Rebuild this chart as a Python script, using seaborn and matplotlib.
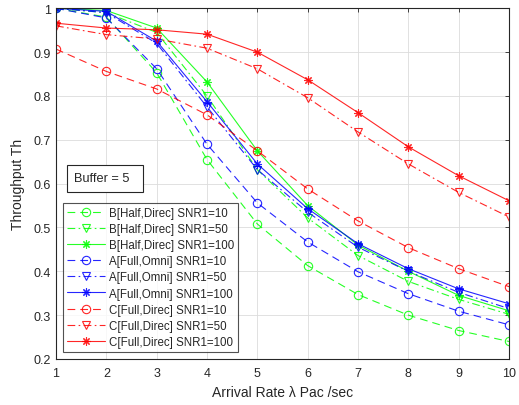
import numpy as np
import pandas as pd
import matplotlib
matplotlib.use("Agg")
import matplotlib.pyplot as plt
from matplotlib.patches import Rectangle
import seaborn as sns

# ---- data ----
arrival_rate = [1, 2, 3, 4, 5, 6, 7, 8, 9, 10]
B10 = [1.0, 0.98, 0.853, 0.655, 0.508, 0.413, 0.347, 0.30, 0.265, 0.24]
B50 = [1.0, 0.99, 0.945, 0.80, 0.632, 0.522, 0.436, 0.377, 0.336, 0.302]
B100 = [1.0, 0.995, 0.955, 0.832, 0.675, 0.55, 0.46, 0.40, 0.345, 0.31]
A10 = [1.0, 0.978, 0.862, 0.69, 0.556, 0.467, 0.399, 0.349, 0.309, 0.278]
A50 = [1.0, 0.99, 0.92, 0.775, 0.632, 0.535, 0.455, 0.40, 0.352, 0.315]
A100 = [1.0, 0.993, 0.925, 0.787, 0.645, 0.543, 0.463, 0.406, 0.36, 0.326]
C10 = [0.907, 0.856, 0.816, 0.757, 0.675, 0.588, 0.515, 0.454, 0.406, 0.365]
C50 = [0.96, 0.94, 0.93, 0.909, 0.862, 0.796, 0.718, 0.645, 0.58, 0.524]
C100 = [0.966, 0.955, 0.951, 0.941, 0.90, 0.837, 0.762, 0.684, 0.618, 0.561]

series_labels = [
    "B[Half,Direc] SNR1=10", "B[Half,Direc] SNR1=50", "B[Half,Direc] SNR1=100",
    "A[Full,Omni] SNR1=10", "A[Full,Omni] SNR1=50", "A[Full,Omni] SNR1=100",
    "C[Full,Direc] SNR1=10", "C[Full,Direc] SNR1=50", "C[Full,Direc] SNR1=100",
]
series_values = [B10, B50, B100, A10, A50, A100, C10, C50, C100]
yticks = [0.2, 0.3, 0.4, 0.5, 0.6, 0.7, 0.8, 0.9, 1.0]
ytick_labels = ["0.2", "0.3", "0.4", "0.5", "0.6", "0.7", "0.8", "0.9", "1"]

df = pd.DataFrame({
    "x": np.tile(arrival_rate, len(series_labels)),
    "y": np.concatenate(series_values),
    "series": np.repeat(series_labels, len(arrival_rate)),
})

# ---- styles ----
GREEN, BLUE, RED = "#00ff00", "#0000ff", "#ff0000"
DASH = (0, (7, 4.5))
DASHDOT = (0, (7, 3, 1.5, 3))
AST = (8, 2, 0)
styles = [
    (GREEN, DASH, "o"), (GREEN, DASHDOT, "v"), (GREEN, "-", AST),
    (BLUE, DASH, "o"), (BLUE, DASHDOT, "v"), (BLUE, "-", AST),
    (RED, DASH, "o"), (RED, DASHDOT, "v"), (RED, "-", AST),
]

sns.set_style("white")
plt.rcParams["font.family"] = ["Liberation Sans", "DejaVu Sans"]
TXT = "#262626"

fig = plt.figure(figsize=(5.19, 4.06), dpi=100)
ax = fig.add_axes([56 / 519, 1 - 360 / 406, 453 / 519, 350.7 / 406])

for lab, (col, ls, mk) in zip(series_labels, styles):
    sub = df[df["series"] == lab]
    sns.lineplot(data=sub, x="x", y="y", ax=ax, color=col, linestyle=ls,
                 marker=mk, markersize=6, markerfacecolor="none",
                 markeredgecolor=col, markeredgewidth=0.8, linewidth=0.8,
                 alpha=0.85, label=lab)

ax.set_xlim(1, 10)
ax.set_ylim(0.2, 1.0)
ax.set_xticks(arrival_rate)
ax.set_yticks(yticks)
ax.set_yticklabels(ytick_labels)
ax.grid(True, color="#dcdcdc", linewidth=0.6)
ax.set_axisbelow(True)
for s in ax.spines.values():
    s.set_color(TXT)
    s.set_linewidth(0.8)
ax.tick_params(direction="in", length=3, width=0.6, colors=TXT, labelsize=9,
               top=True, right=True, labelcolor=TXT)
ax.tick_params(axis="x", pad=6)
ax.set_xlabel("Arrival Rate λ Pac /sec", fontsize=10, color=TXT, labelpad=4)
ax.set_ylabel("Throughput Th", fontsize=10, color=TXT, labelpad=6)

leg = ax.legend(loc="lower left", bbox_to_anchor=(0.0155, 0.02), borderaxespad=0,
                fontsize=8.3, handlelength=3.3, handletextpad=0.3, labelspacing=0.36,
                frameon=True, fancybox=False, edgecolor=TXT, borderpad=0.35,
                numpoints=1)
leg.get_frame().set_linewidth(0.8)
for t in leg.get_texts():
    t.set_color(TXT)

# annotation box "Buffer = 5"
ax.add_patch(Rectangle(((67 - 56) / 453, (360 - 193) / 350.7), 75.7 / 453, 27 / 350.7,
                       transform=ax.transAxes, fc="white", ec=TXT, lw=0.8, zorder=5))
ax.text((74 - 56) / 453, (360 - 179.5) / 350.7, "Buffer = 5", transform=ax.transAxes,
        fontsize=9.2, color=TXT, va="center", ha="left", zorder=6)

fig.savefig("out.png", dpi=100)
